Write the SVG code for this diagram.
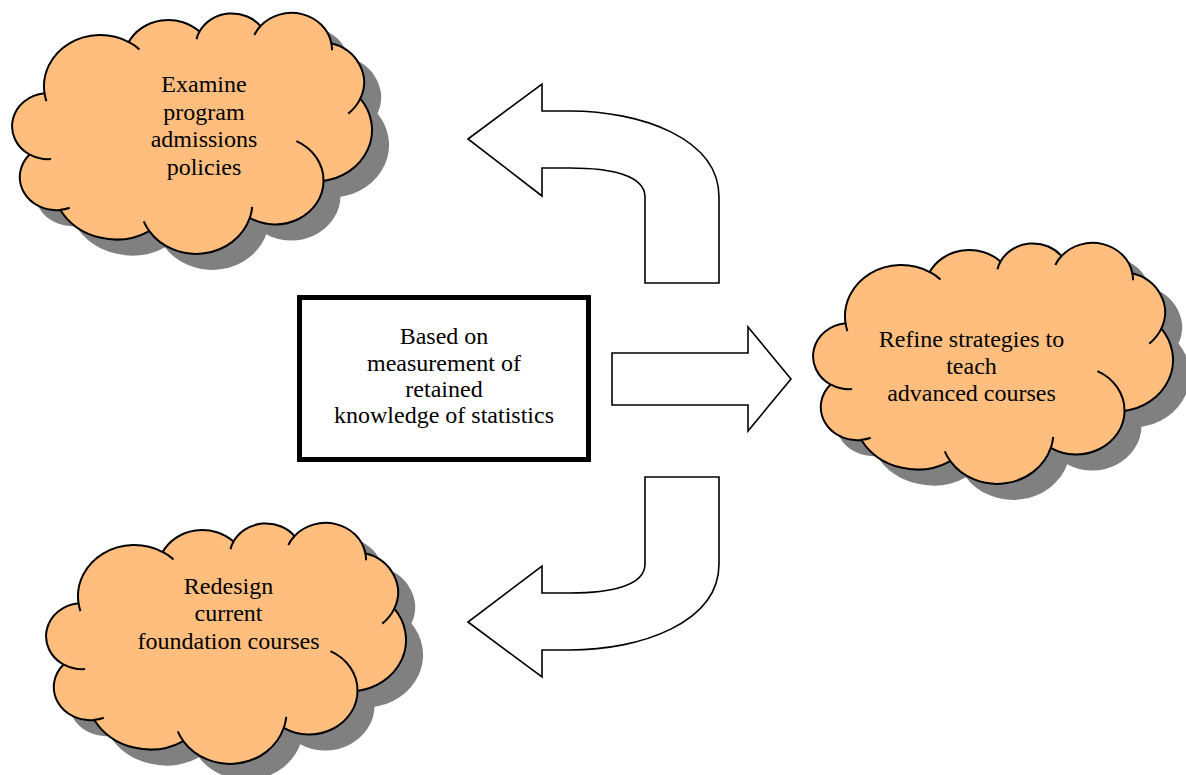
<svg xmlns="http://www.w3.org/2000/svg" xmlns:xlink="http://www.w3.org/1999/xlink" width="1186" height="775" viewBox="0 0 1186 775">
<style>
  .shadow { fill: #808080; stroke: #808080; stroke-width: 2; }
  .cloud { fill: #FFBE7E; stroke: #000; stroke-width: 2; }
  .clines { fill: none; stroke: #000; stroke-width: 2; }
  .arrow { fill: #fff; stroke: #000; stroke-width: 1.6; stroke-linejoin: miter; }
  .box { fill: #fff; stroke: #000; stroke-width: 5; }
  .lbl { font-family: "Liberation Serif", "Times New Roman", serif; font-size: 24px; fill: #000; text-anchor: middle; }
</style>
<defs>
  <path id="cloud" vector-effect="non-scaling-stroke" d="M3900,14370 A6753,9190 0 0 1 14006,5202 A5333,7267 0 0 1 22500,3330 A4365,5945 0 0 1 29820,2340 A4857,6595 0 0 1 38324,5426 A5333,7273 0 0 1 41798,15354 A6775,9220 0 0 1 37384,30097 A5785,7867 0 0 1 28535,36707 A6752,9215 0 0 1 16478,39090 A7720,10543 0 0 1 5803,35297 A4360,5918 0 0 1 2112,25375 A4345,5945 0 0 1 3900,14370 Z"/>
  <path id="cloudLines" vector-effect="non-scaling-stroke" d="M4693,26177 A4345,5945 0 0 1 2160,25380 M6928,34899 A4360,5918 0 0 1 5819,35281 M16478,39090 A6752,9215 0 0 1 15810,37350 M28827,34751 A6752,9215 0 0 1 28560,36661 M34129,22954 A5785,7867 0 0 1 37381,30090 M41798,15354 A5333,7273 0 0 1 40349,18031 M38324,5426 A4857,6595 0 0 1 38400,6690 M29078,3952 A4857,6595 0 0 1 29820,2340 M22141,4720 A4365,5945 0 0 1 22500,3330 M14000,5192 A6753,9190 0 0 1 15299,6539 M4127,15789 A6753,9190 0 0 1 3900,14370"/>
</defs>

<g id="connectors">
  <path id="arrow-up-left" class="arrow" d="M468,139 L542,84 L542,111 L570,111 C640,111 719,138 719,197 L719,283 L645,283 L645,197 C645,175 610,168 570,168 L542,168 L542,196 Z"/>
  <path id="arrow-right" class="arrow" d="M612,353 L748,353 L748,327 L791,379 L748,431 L748,405 L612,405 Z"/>
  <path id="arrow-down-left" class="arrow" d="M468,622 L542,677 L542,650 L570,650 C640,650 719,623 719,564 L719,477 L645,477 L645,564 C645,586 610,593 570,593 L542,593 L542,566 Z"/>
</g>

<g id="node-center">
  <rect class="box" x="299.5" y="297.5" width="289" height="162"/>
  <text class="lbl" x="444" y="344">Based on</text>
  <text class="lbl" x="444" y="370.5">measurement of</text>
  <text class="lbl" x="444" y="396.5">retained</text>
  <text class="lbl" x="444" y="423">knowledge of statistics</text>
</g>

<g id="node-examine">
  <use xlink:href="#cloud" class="shadow" transform="translate(28,28) scale(0.0083333,0.0055787)"/>
  <use xlink:href="#cloud" class="cloud" transform="translate(12,13) scale(0.0083333,0.0055787)"/>
  <use xlink:href="#cloudLines" class="clines" transform="translate(12,13) scale(0.0083333,0.0055787)"/>
  <text class="lbl" x="204" y="92">Examine</text>
  <text class="lbl" x="204" y="119.5">program</text>
  <text class="lbl" x="204" y="147">admissions</text>
  <text class="lbl" x="204" y="174.5">policies</text>
</g>

<g id="node-refine">
  <use xlink:href="#cloud" class="shadow" transform="translate(829,258) scale(0.0083333,0.0055787)"/>
  <use xlink:href="#cloud" class="cloud" transform="translate(813,243) scale(0.0083333,0.0055787)"/>
  <use xlink:href="#cloudLines" class="clines" transform="translate(813,243) scale(0.0083333,0.0055787)"/>
  <text class="lbl" x="971.5" y="347">Refine strategies to</text>
  <text class="lbl" x="971.5" y="374">teach</text>
  <text class="lbl" x="971.5" y="401">advanced courses</text>
</g>

<g id="node-redesign">
  <use xlink:href="#cloud" class="shadow" transform="translate(62,538) scale(0.0083333,0.0055787)"/>
  <use xlink:href="#cloud" class="cloud" transform="translate(46,523) scale(0.0083333,0.0055787)"/>
  <use xlink:href="#cloudLines" class="clines" transform="translate(46,523) scale(0.0083333,0.0055787)"/>
  <text class="lbl" x="228.5" y="593.5">Redesign</text>
  <text class="lbl" x="228.5" y="621">current</text>
  <text class="lbl" x="228.5" y="649">foundation courses</text>
</g>
</svg>
